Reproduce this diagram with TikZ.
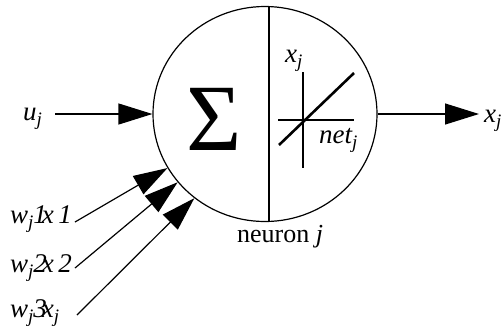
\documentclass[tikz,border=0pt]{standalone}
\usepackage{fontspec}
\setmainfont{Liberation Serif}
\usetikzlibrary{arrows.meta,shapes.geometric}
\newcommand{\mysub}[1]{\raisebox{-0.22em}{\fontsize{19}{19}\selectfont\itshape #1}}
\tikzset{
  lbl/.style={inner sep=0pt, font=\fontsize{27}{27}\selectfont\itshape},
  arr/.style={line width=1.2pt, -{Triangle[length=34pt,width=21pt]}},
  thin/.style={line width=1.2pt}
}
\begin{document}
\begin{tikzpicture}[x=1pt,y=-1pt]
\useasboundingbox (0,0) rectangle (502,333);
% neuron body
\node[draw, ellipse, line width=1.2pt, minimum width=224pt, minimum height=215pt, inner sep=0pt] (neuron) at (265,114) {};
\draw[thin] ([xshift=4pt]neuron.north) -- ([xshift=4pt]neuron.south);
% sigma
\node[anchor=base, inner sep=0pt, font=\fontsize{95}{95}\selectfont] (sigma) at (214,150) {Σ};
% activation plot
\coordinate (vt) at (303,72);
\coordinate (vb) at (303,168);
\coordinate (hl) at (278,120);
\coordinate (hr) at (354,120);
\coordinate (dl) at (279,145);
\coordinate (dr) at (354,73);
\draw[thin] (vt) -- (vb);
\draw[thin] (hl) -- (hr);
\draw[line width=2.6pt] (dl) -- (dr);
\node[lbl, anchor=base west] (px) at (285,62) {x\mysub{j}};
\node[lbl, anchor=base west] (net) at (319,143) {net\mysub{j}};
% input u_j
\node[lbl, anchor=base west] (u) at (23,120) {u\mysub{j}};
\coordinate (us) at (55,114);
\draw[arr] (us |- neuron.west) -- (neuron.west);
% output
\node[lbl, anchor=base west] (xo) at (484,122) {x\mysub{j}};
\draw[arr] (neuron.east) -- ([xshift=-5pt]xo.west |- neuron.east);
% weighted inputs
\node[lbl, anchor=base west] (w1) at (10,223) {w\mysub{j}1\kern-5pt x\,1};
\node[lbl, anchor=base west] (w2) at (10,272) {w\mysub{j}2\kern-5pt x\,2};
\node[lbl, anchor=base west] (w3) at (10,317) {w\mysub{j}3\kern-5pt x\mysub{j}};
\coordinate (s1) at (75,222);
\coordinate (s2) at (75,268);
\coordinate (s3) at (77,315);
\draw[arr] (s1) -- (neuron.209);
\draw[arr] (s2) -- (neuron.218);
\draw[arr] (s3) -- (neuron.230);
% caption
\node[inner sep=0pt, anchor=base west, font=\fontsize{26}{26}\selectfont] (cap) at (237,242) {neuron \textit{j}};
\end{tikzpicture}
\end{document}
